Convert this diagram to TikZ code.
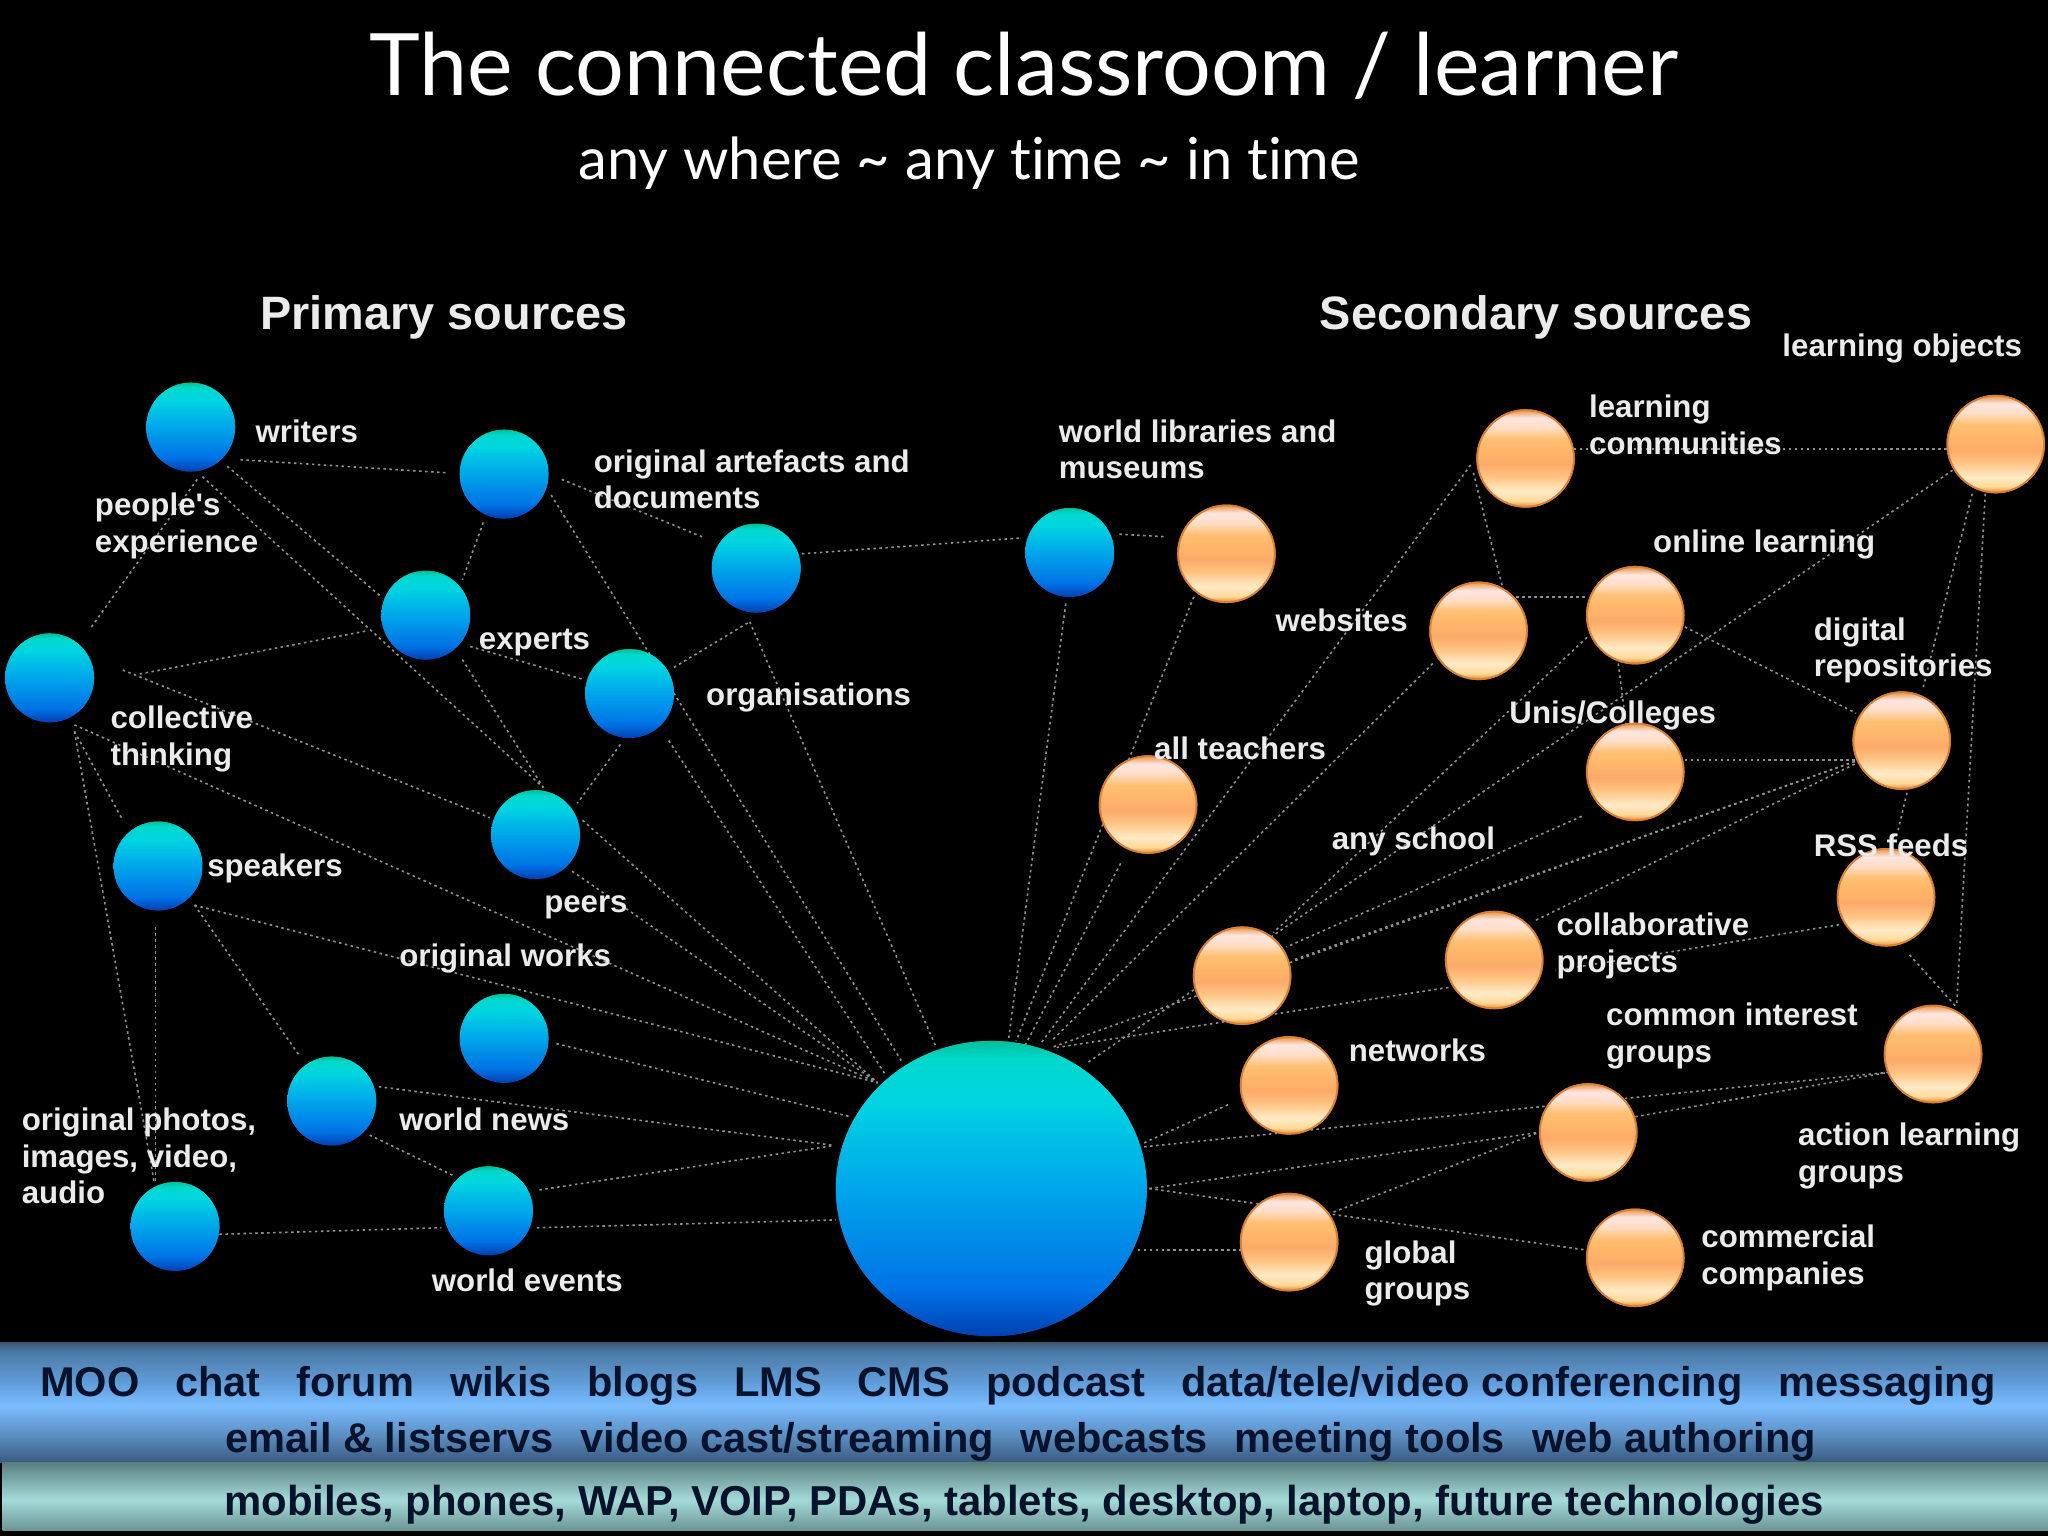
\documentclass[tikz,border=0pt]{standalone}
\usepackage{fontspec}
\usetikzlibrary{shapes.geometric}
\setmainfont{Liberation Sans}
\newfontfamily\titlefont[Ligatures=NoCommon]{Lato}
\pgfdeclareverticalshading{blueshade}{100bp}{rgb(0bp)=(0,.25,.7); rgb(25bp)=(0,.25,.7); rgb(33bp)=(0,.45,.9); rgb(50bp)=(0,.65,.92); rgb(65bp)=(0,.83,.88); rgb(72bp)=(0,.85,.8); rgb(75bp)=(0,.75,.6); rgb(100bp)=(0,.75,.6)}
\pgfdeclareverticalshading{orangeshade}{100bp}{rgb(0bp)=(.9,.55,.2); rgb(25bp)=(.9,.55,.2); rgb(28bp)=(1,.85,.6); rgb(33bp)=(1,.92,.78); rgb(41bp)=(1,.76,.5); rgb(47bp)=(.99,.67,.42); rgb(55bp)=(1,.72,.42); rgb(60bp)=(1,.75,.45); rgb(66bp)=(1,.87,.78); rgb(71bp)=(1,.9,.88); rgb(75bp)=(.9,.6,.3); rgb(100bp)=(.9,.6,.3)}
\pgfdeclareverticalshading{barone}{100bp}{rgb(0bp)=(.22,.35,.5); rgb(25bp)=(.22,.35,.5); rgb(36bp)=(.35,.55,.75); rgb(49bp)=(.48,.74,1); rgb(58bp)=(.38,.62,.86); rgb(71bp)=(.3,.48,.65); rgb(75bp)=(.25,.35,.45); rgb(100bp)=(.25,.35,.45)}
\pgfdeclareverticalshading{bartwo}{100bp}{rgb(0bp)=(.42,.58,.58); rgb(25bp)=(.42,.58,.58); rgb(48bp)=(.64,.86,.85); rgb(75bp)=(.35,.5,.5); rgb(100bp)=(.35,.5,.5)}
\definecolor{labelgrey}{rgb}{.92,.92,.92}
\definecolor{linkgrey}{rgb}{.56,.56,.56}
\definecolor{bartext}{rgb}{.03,.07,.17}
\newcommand{\lnk}[4]{\draw[linkline] ([shift={(#2)}]#1.center) -- ([shift={(#4)}]#3.center);}
\tikzset{
  bball/.style={circle,inner sep=0pt,minimum size=.68cm,shading=blueshade},
  oball/.style={circle,inner sep=0pt,minimum size=.74cm,shading=orangeshade,draw={rgb,1:red,.85;green,.5;blue,.2},line width=.4pt},
  bigball/.style={ellipse,inner sep=0pt,minimum width=2.38cm,minimum height=2.26cm,shading=blueshade},
  linkline/.style={draw=linkgrey,line width=.35pt,dash pattern=on .55pt off .75pt},
  lab/.style={anchor=west,inner sep=0pt,align=left,text=labelgrey,font=\fontsize{6.8}{8}\selectfont\bfseries},
  head/.style={inner sep=0pt,text=labelgrey,font=\fontsize{10.2}{12}\selectfont\bfseries},
  bartxt/.style={inner sep=0pt,anchor=west,text=bartext,font=\fontsize{9.05}{11}\selectfont\bfseries},
  titletxt/.style={inner sep=0pt,text=white,font=\titlefont\fontsize{18.75}{23}\selectfont},
  subtxt/.style={inner sep=0pt,text=white,font=\titlefont\fontsize{12.6}{15}\selectfont},
}
\begin{document}
\begin{tikzpicture}[x=.01cm,y=-.01cm]
\useasboundingbox (0,0) rectangle (1568,1176);
\fill[black] (0,0) rectangle (1568,1176);
\shade[shading=barone] (0,1028) rectangle (1568,1120);
\shade[shading=bartwo] (2,1120) rectangle (1568,1172);

\node (t1) [titletxt] at (784,50) {The connected classroom / learner};
\node (t2) [subtxt] at (742,125) {any where \textasciitilde{} any time \textasciitilde{} in time};
\node (h1) [head] at (340,243) {Primary sources};
\node (h2) [head] at (1176,243) {Secondary sources};

% balls
\node (W) [bball] at (146,327) {};
\node (A) [bball] at (386,363) {};
\node (D) [bball] at (579,435) {};
\node (L) [bball] at (819,423) {};
\node (E) [bball] at (326,471) {};
\node (G) [bball] at (482,531) {};
\node (C) [bball] at (38,519) {};
\node (S) [bball] at (121,663) {};
\node (P) [bball] at (410,639) {};
\node (K) [bball] at (386,795) {};
\node (N) [bball] at (254,843) {};
\node (V) [bball] at (374,927) {};
\node (H) [bball] at (134,939) {};
\node (B) [bigball] at (759,910) {};
\node (Oa) [oball] at (939,424) {};
\node (Ob) [oball] at (1168,351) {};
\node (Oc) [oball] at (1528,340) {};
\node (Od) [oball] at (1132,483) {};
\node (Oe) [oball] at (1252,471) {};
\node (Of) [oball] at (1456,567) {};
\node (Og) [oball] at (879,616) {};
\node (Oh) [oball] at (1252,591) {};
\node (Oi) [oball] at (1444,687) {};
\node (Oj) [oball] at (951,747) {};
\node (Ok) [oball] at (1144,735) {};
\node (Ol) [oball] at (987,831) {};
\node (Om) [oball] at (1480,807) {};
\node (On) [oball] at (1216,867) {};
\node (Oo) [oball] at (987,951) {};
\node (Op) [oball] at (1252,963) {};

% connectors
\lnk{W}{38,25}{A}{-44,-1}
\lnk{W}{28,30}{E}{-34,-14}
\lnk{W}{9,38}{P}{6,-36}
\lnk{W}{5,40}{C}{32,-39}
\lnk{C}{69,-3}{E}{-45,12}
\lnk{C}{56,-6}{P}{-35,-13}
\lnk{C}{19,36}{B}{-87,-81}
\lnk{C}{19,41}{S}{-27,-35}
\lnk{C}{19,41}{H}{-16,-34}
\lnk{S}{-2,47}{H}{-15,-33}
\lnk{S}{28,30}{B}{-87,-81}
\lnk{S}{28,30}{N}{-25,-35}
\lnk{A}{-16,37}{E}{28,-27}
\lnk{A}{44,4}{D}{-39,-23}
\lnk{A}{36,16}{B}{-69,-98}
\lnk{E}{34,24}{G}{-36,-11}
\lnk{E}{28,34}{P}{6,-36}
\lnk{G}{34,-20}{D}{-5,41}
\lnk{D}{-5,41}{B}{-43,-110}
\lnk{G}{-7,39}{P}{32,-24}
\lnk{G}{30,36}{B}{-81,-87}
\lnk{P}{36,-11}{B}{-87,-81}
\lnk{P}{28,28}{B}{-87,-81}
\lnk{D}{35,-11}{L}{-39,-11}
\lnk{L}{38,-14}{Oa}{-46,-13}
\lnk{L}{-3,39}{B}{13,-113}
\lnk{Oa}{-25,33}{B}{19,-113}
\lnk{Og}{-21,45}{B}{26,-110}
\lnk{Ob}{-42,5}{B}{37,-110}
\lnk{Ob}{-40,11}{Od}{18,-35}
\lnk{Ob}{37,-7}{Oc}{-37,4}
\lnk{Od}{29,-26}{Oe}{-37,-14}
\lnk{Od}{-35,25}{B}{46,-113}
\lnk{Oe}{-37,17}{Oj}{24,-33}
\lnk{Oc}{-33,20}{B}{73,-96}
\lnk{Oe}{38,9}{Of}{-35,-21}
\lnk{Oe}{-13,37}{Oh}{-7,-36}
\lnk{Oh}{38,-9}{Of}{-36,15}
\lnk{Oh}{-41,34}{Oj}{34,-22}
\lnk{Of}{-36,16}{Oj}{39,-12}
\lnk{Of}{-36,16}{B}{46,-108}
\lnk{Of}{-36,18}{Ok}{31,-30}
\lnk{Oi}{-36,21}{Ok}{47,8}
\lnk{Ok}{-35,21}{B}{50,-108}
\lnk{Oc}{-18,38}{Of}{16,-39}
\lnk{Oc}{-8,38}{Om}{18,-37}
\lnk{Of}{4,40}{Oi}{8,-46}
\lnk{Oi}{18,44}{Om}{17,-37}
\lnk{On}{28,-26}{Om}{-34,14}
\lnk{On}{36,-12}{Om}{-34,14}
\lnk{B}{117,-32}{On}{-33,-20}
\lnk{B}{117,-35}{Ol}{-45,14}
\lnk{B}{121,0}{On}{-38,0}
\lnk{B}{121,0}{Op}{-38,-6}
\lnk{Oo}{34,-23}{On}{-38,0}
\lnk{B}{112,47}{Oo}{-37,6}
\lnk{K}{40,4}{B}{-108,-55}
\lnk{N}{36,-11}{B}{-120,-33}
\lnk{V}{39,-16}{B}{-120,-33}
\lnk{V}{37,13}{B}{-119,24}
\lnk{H}{34,6}{V}{-36,13}
\lnk{N}{29,26}{V}{-27,-27}

% redraw balls above connectors
\foreach \n in {W,A,D,L,E,G,C,S,P,K,N,V,H}
  \path[shading=blueshade] (\n.center) circle (34);
\path[shading=blueshade] (B.center) ellipse (119 and 113);
\foreach \n in {Oa,Ob,Oc,Od,Oe,Of,Og,Oh,Oi,Oj,Ok,Ol,Om,On,Oo,Op}
  \path[shading=orangeshade,draw={rgb,1:red,.85;green,.5;blue,.2},line width=.4pt] (\n.center) circle (37);

% labels
\node (l1) [lab] at (195,330) {writers};
\node (l2) [lab] at (454,367) {original artefacts and\\documents};
\node (l3) [lab] at (1364,267) {learning objects};
\node (l4) [lab] at (1216,325) {learning\\communities};
\node (l5) [lab] at (810,344) {world libraries and\\museums};
\node (l6) [lab] at (72,402.5) {people\textquotesingle s\\experience};
\node (l7) [lab] at (1265,417) {online learning};
\node (l8) [lab] at (1388,498) {digital\\repositories};
\node (l9) [lab] at (976,475) {websites};
\node (l10) [lab] at (366,492) {experts};
\node (l11) [lab] at (540,534) {organisations};
\node (l12) [lab] at (84,566) {collective\\thinking};
\node (l13) [lab] at (883,573) {all teachers};
\node (l14) [lab] at (1155,548) {Unis/Colleges};
\node (l15) [lab] at (1019,644) {any school};
\node (l16) [lab] at (158,665) {speakers};
\node (l17) [lab] at (416,695) {peers};
\node (l18) [lab] at (1388,647) {RSS feeds};
\node (l19) [lab] at (1191,724.5) {collaborative\\projects};
\node (l20) [lab] at (305,734) {original works};
\node (l21) [lab] at (1229,793) {common interest\\groups};
\node (l22) [lab] at (1032,804) {networks};
\node (l23) [lab] at (1376,885) {action learning\\groups};
\node (l24) [lab] at (305,857) {world news};
\node (l25) [lab] at (16,885) {original photos,\\images, video,\\audio};
\node (l26) [lab] at (1044,975) {global\\groups};
\node (l27) [lab] at (1302,963) {commercial\\companies};
\node (l28) [lab] at (330,980) {world events};

% bars
\node (b1) [bartxt] at (30,1061) {MOO\hspace{7.8pt}chat\hspace{7.8pt}forum\hspace{7.8pt}wikis\hspace{7.8pt}blogs\hspace{7.8pt}LMS\hspace{7.8pt}CMS\hspace{7.8pt}podcast\hspace{7.8pt}data/tele/video conferencing\hspace{7.8pt}messaging};
\node (b2) [bartxt] at (172,1104) {email \& listservs\hspace{5.85pt}video cast/streaming\hspace{5.85pt}webcasts\hspace{5.85pt}meeting tools\hspace{5.85pt}web authoring};
\node (b3) [bartxt,font=\fontsize{9.12}{11}\selectfont\bfseries] at (171,1152) {mobiles, phones, WAP, VOIP, PDAs, tablets, desktop, laptop, future technologies};
\end{tikzpicture}
\end{document}
